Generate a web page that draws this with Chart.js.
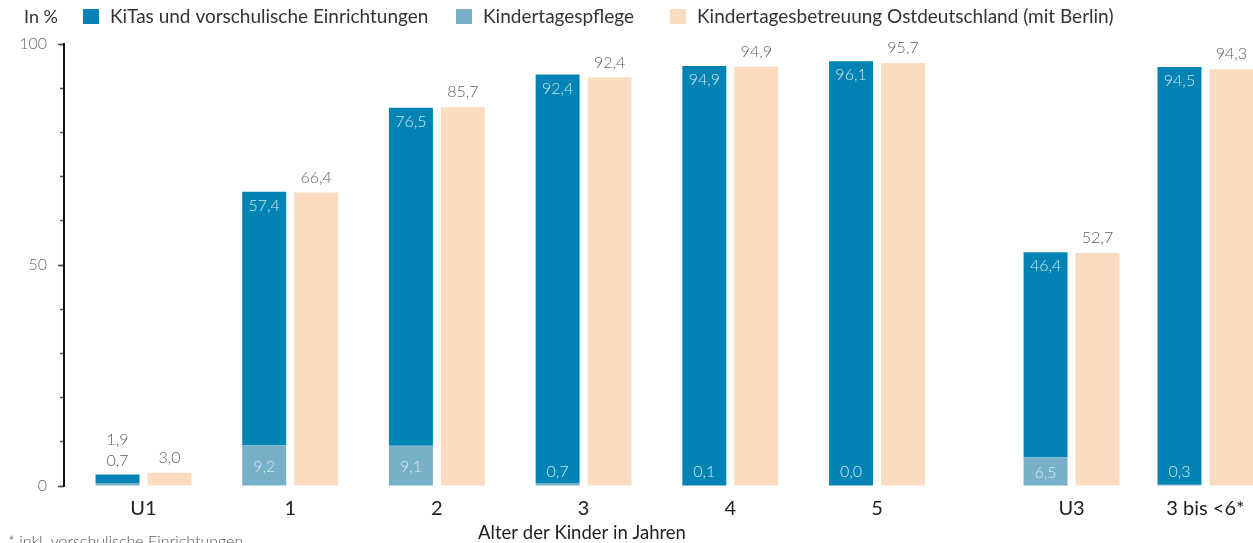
<!DOCTYPE html>
<html lang="de">
<head>
<meta charset="utf-8">
<title>Betreuungsquoten</title>
<script src="https://cdn.jsdelivr.net/npm/chart.js@4/dist/chart.umd.min.js"></script>
<style>
  html, body { margin: 0; padding: 0; background: #ffffff; }
  canvas { display: block; }
</style>
</head>
<body>
<canvas id="c" width="1253" height="543"></canvas>
<script>
// ---------- data ----------
const categories = ['U1', '1', '2', '3', '4', '5', 'U3', '3 bis <6*'];
const kitas      = [1.9, 57.4, 76.5, 92.4, 94.9, 96.1, 46.4, 94.5];
const pflege     = [0.7, 9.2, 9.1, 0.7, 0.1, 0.0, 6.5, 0.3];
const ost        = [3.0, 66.4, 85.7, 92.4, 94.9, 95.7, 52.7, 94.3];
const seriesNames = [
  'KiTas und vorschulische Einrichtungen',
  'Kindertagespflege',
  'Kindertagesbetreuung Ostdeutschland (mit Berlin)'
];
const yTickLabels = [0, 50, 100];

// ---------- layout (category slots on the x axis; U3 group set apart) ----------
const slot = [0, 1, 2, 3, 4, 5, 6.326, 7.239];

const C_DARK = '#0183b4';
const C_LIGHT = '#78b0ca';
const C_PEACH = '#fbdcc0';
const FONT = 'Lato, "Noto Sans", sans-serif';

const fmt = v => v.toFixed(1).replace('.', ',');
const pts = arr => arr.map((v, i) => ({ x: slot[i], y: v }));

const decor = {
  id: 'decor',
  afterDatasetsDraw(chart) {
    const ctx = chart.ctx;
    ctx.save();
    ctx.textAlign = 'center';
    ctx.textBaseline = 'middle';
    ctx.font = '300 16px ' + FONT;
    const mP = chart.getDatasetMeta(0);
    const mK = chart.getDatasetMeta(1);
    const mO = chart.getDatasetMeta(2);
    const GRAY = '#606060', WHITE = '#d4e8f2';
    for (let i = 0; i < categories.length; i++) {
      const bk = mK.data[i], bp = mP.data[i], bo = mO.data[i];
      const kH = bk.base - bk.y;
      const pH = bp.base - bp.y;
      if (kH < 20) {
        ctx.fillStyle = GRAY;
        ctx.fillText(fmt(kitas[i]), bk.x, bk.y - 35);
        ctx.fillText(fmt(pflege[i]), bk.x, bk.y - 14);
      } else {
        ctx.fillStyle = WHITE;
        ctx.fillText(fmt(kitas[i]), bk.x, bk.y + 14);
        if (pH >= 20) {
          ctx.fillText(fmt(pflege[i]), bp.x, (bp.y + bp.base) / 2 + 1);
        } else {
          ctx.fillText(fmt(pflege[i]), bp.x, bp.base - 14);
        }
      }
      ctx.fillStyle = GRAY;
      ctx.fillText(fmt(ost[i]), bo.x, bo.y - 15);
    }
    ctx.restore();
  },
  afterDraw(chart) {
    const ctx = chart.ctx;
    ctx.save();
    // "In %" and legend
    ctx.textBaseline = 'middle';
    ctx.textAlign = 'left';
    ctx.fillStyle = '#333333';
    ctx.font = '400 18px ' + FONT;
    ctx.fillText('In %', 24, 17);
    ctx.font = '400 19px ' + FONT;
    const boxX = [83, 456, 670];
    const colors = [C_DARK, C_LIGHT, C_PEACH];
    for (let k = 0; k < 3; k++) {
      ctx.fillStyle = colors[k];
      ctx.fillRect(boxX[k], 9, 16, 15);
      ctx.fillStyle = '#333333';
      ctx.fillText(seriesNames[k], boxX[k] + 27, 17);
    }
    // x axis title
    ctx.textAlign = 'center';
    ctx.textBaseline = 'alphabetic';
    ctx.fillStyle = '#222222';
    ctx.font = '400 18.5px ' + FONT;
    ctx.fillText('Alter der Kinder in Jahren', 582, 539);
    // footnote
    ctx.textAlign = 'left';
    ctx.fillStyle = '#555555';
    ctx.font = '300 16px ' + FONT;
    ctx.fillText('* inkl. vorschulische Einrichtungen', 8, 547);
    ctx.restore();
  }
};

new Chart(document.getElementById('c'), {
  type: 'bar',
  data: {
    datasets: [
      { label: seriesNames[1], data: pts(pflege), backgroundColor: C_LIGHT, stack: 'a' },
      { label: seriesNames[0], data: pts(kitas),  backgroundColor: C_DARK,  stack: 'a' },
      { label: seriesNames[2], data: pts(ost),    backgroundColor: C_PEACH, stack: 'b' }
    ]
  },
  options: {
    responsive: false,
    animation: false,
    events: [],
    categoryPercentage: 0.776,
    barPercentage: 0.846,
    layout: { padding: { top: 44, left: 0, right: 0, bottom: 0 } },
    plugins: {
      legend: { display: false },
      tooltip: { enabled: false }
    },
    scales: {
      x: {
        type: 'linear',
        offset: false,
        min: -0.542,
        max: 7.563,
        grid: { display: false, offset: false },
        border: { display: false },
        afterBuildTicks: s => { s.ticks = slot.map(v => ({ value: v })); },
        afterFit: s => { s.height = 57; },
        ticks: {
          autoSkip: false,
          maxRotation: 0,
          padding: 3,
          color: '#222222',
          font: { family: FONT, size: 20, weight: '400' },
          callback: (v, i) => categories[i]
        }
      },
      y: {
        stacked: true,
        min: 0,
        max: 100,
        weight: 1,
        afterBuildTicks: s => { s.ticks = yTickLabels.map(v => ({ value: v })); },
        afterFit: s => { s.width = 64; },
        border: { display: true, color: '#111111', width: 2 },
        grid: { drawOnChartArea: false, drawTicks: true, tickLength: 6, tickColor: '#444444', tickWidth: 1.5 },
        ticks: {
          padding: 11,
          color: '#6a6a6a',
          font: { family: FONT, size: 16, weight: '300' }
        }
      },
      yMinor: {
        type: 'linear',
        position: 'left',
        min: 0,
        max: 100,
        weight: 0,
        afterFit: s => { s.width = 0; },
        border: { display: false },
        grid: { drawOnChartArea: false, drawTicks: true, tickLength: 4, tickColor: '#555555', tickWidth: 1.5 },
        ticks: { stepSize: 10, display: false }
      }
    }
  },
  plugins: [decor]
});
</script>
</body>
</html>
